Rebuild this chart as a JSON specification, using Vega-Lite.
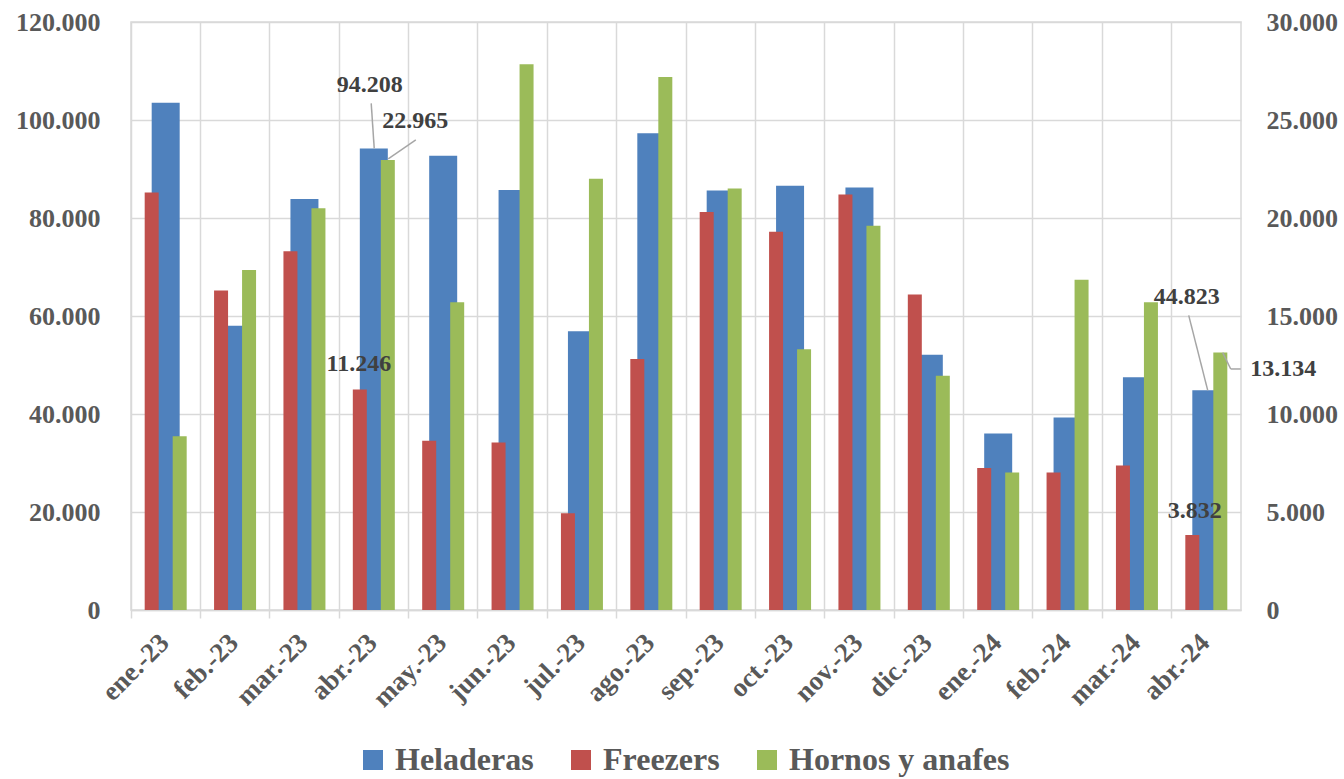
{
  "$schema": "https://vega.github.io/schema/vega-lite/v6.json",
  "width": 1110,
  "height": 588,
  "autosize": {"type": "none"},
  "padding": {"left": 131, "top": 22, "right": 103, "bottom": 169},
  "background": "white",
  "data": {
    "values": [
      {"mes": "ene.-23", "Heladeras": 103500, "Freezers": 21300, "Hornos": 8860},
      {"mes": "feb.-23", "Heladeras": 58000, "Freezers": 16300, "Hornos": 17350},
      {"mes": "mar.-23", "Heladeras": 83900, "Freezers": 18300, "Hornos": 20500},
      {"mes": "abr.-23", "Heladeras": 94208, "Freezers": 11246, "Hornos": 22965},
      {"mes": "may.-23", "Heladeras": 92700, "Freezers": 8640, "Hornos": 15700},
      {"mes": "jun.-23", "Heladeras": 85700, "Freezers": 8540, "Hornos": 27850},
      {"mes": "jul.-23", "Heladeras": 56900, "Freezers": 4930, "Hornos": 22000},
      {"mes": "ago.-23", "Heladeras": 97300, "Freezers": 12800, "Hornos": 27200},
      {"mes": "sep.-23", "Heladeras": 85600, "Freezers": 20300, "Hornos": 21500},
      {"mes": "oct.-23", "Heladeras": 86600, "Freezers": 19300, "Hornos": 13300},
      {"mes": "nov.-23", "Heladeras": 86200, "Freezers": 21200, "Hornos": 19600},
      {"mes": "dic.-23", "Heladeras": 52100, "Freezers": 16100, "Hornos": 11950},
      {"mes": "ene.-24", "Heladeras": 36000, "Freezers": 7250, "Hornos": 7020},
      {"mes": "feb.-24", "Heladeras": 39300, "Freezers": 7020, "Hornos": 16850},
      {"mes": "mar.-24", "Heladeras": 47500, "Freezers": 7370, "Hornos": 15700},
      {"mes": "abr.-24", "Heladeras": 44823, "Freezers": 3832, "Hornos": 13134}
    ]
  },
  "config": {
    "locale": {"number": {"decimal": ",", "thousands": ".", "grouping": [3], "currency": ["$", ""]}},
    "view": {"stroke": "#D9D9D9", "strokeWidth": 1.5},
    "font": "Liberation Serif",
    "axis": {
      "labelFont": "Liberation Serif",
      "labelFontWeight": "bold",
      "labelColor": "#595959",
      "labelFontSize": 26,
      "gridColor": "#D9D9D9",
      "gridWidth": 1.5,
      "domain": false,
      "ticks": false,
      "title": null
    }
  },
  "encoding": {
    "x": {
      "field": "mes",
      "type": "nominal",
      "sort": null,
      "scale": {
        "domain": ["ene.-23", "feb.-23", "mar.-23", "abr.-23", "may.-23", "jun.-23", "jul.-23", "ago.-23", "sep.-23", "oct.-23", "nov.-23", "dic.-23", "ene.-24", "feb.-24", "mar.-24", "abr.-24"],
        "paddingInner": 0,
        "paddingOuter": 0
      },
      "axis": {
        "title": null,
        "labelAngle": -45,
        "bandPosition": 0,
        "labelOffset": -10,
        "grid": true,
        "ticks": true,
        "tickSize": 8,
        "tickColor": "#D9D9D9",
        "tickWidth": 1.5,
        "domain": true,
        "domainColor": "#D9D9D9",
        "domainWidth": 1.5,
        "labelPadding": 11,
        "labelFontSize": 27
      }
    }
  },
  "layer": [
    {
      "mark": {"type": "bar", "width": 28},
      "encoding": {
        "y": {
          "field": "Heladeras",
          "type": "quantitative",
          "scale": {"domain": [0, 120000], "nice": false},
          "axis": {"orient": "left", "values": [0, 20000, 40000, 60000, 80000, 100000, 120000], "format": ",d", "grid": true, "labelPadding": 31}
        },
        "color": {
          "datum": "Heladeras",
          "type": "nominal",
          "scale": {"domain": ["Heladeras", "Freezers", "Hornos y anafes"], "range": ["#4F81BD", "#C0504D", "#9BBB59"]},
          "legend": {
            "title": null,
            "orient": "none",
            "legendX": 226,
            "legendY": 722,
            "direction": "horizontal",
            "symbolType": "square",
            "symbolSize": 400,
            "symbolStrokeWidth": 0,
            "labelFontSize": 32,
            "labelFont": "Liberation Serif",
            "labelFontWeight": "bold",
            "labelColor": "#595959",
            "columnPadding": 31,
            "labelOffset": 6,
            "labelLimit": 400
          }
        }
      }
    },
    {
      "mark": {"type": "bar", "width": 14, "xOffset": -14},
      "encoding": {
        "y": {
          "field": "Freezers",
          "type": "quantitative",
          "scale": {"domain": [0, 30000], "nice": false},
          "axis": {"orient": "right", "values": [0, 5000, 10000, 15000, 20000, 25000, 30000], "format": ",d", "grid": false, "labelPadding": 25}
        },
        "color": {"datum": "Freezers", "type": "nominal"}
      }
    },
    {
      "mark": {"type": "bar", "width": 14, "xOffset": 14},
      "encoding": {
        "y": {"field": "Hornos", "type": "quantitative", "scale": {"domain": [0, 30000], "nice": false}, "axis": null},
        "color": {"datum": "Hornos y anafes", "type": "nominal"}
      }
    },
    {
      "transform": [{"filter": "datum.mes === 'abr.-23'"}],
      "mark": {"type": "rule", "color": "#A6A6A6", "strokeWidth": 1.5, "xOffset": -2.6, "yOffset": -45, "x2Offset": 0.4, "y2Offset": 0},
      "encoding": {
        "x2": {"field": "mes"},
        "y": {"field": "Heladeras", "type": "quantitative", "scale": {"domain": [0, 120000], "nice": false}, "axis": null},
        "y2": {"field": "Heladeras"}
      }
    },
    {
      "transform": [{"filter": "datum.mes === 'abr.-23'"}],
      "mark": {"type": "rule", "color": "#A6A6A6", "strokeWidth": 1.5, "xOffset": 42, "yOffset": -20, "x2Offset": 14.4, "y2Offset": -1},
      "encoding": {
        "x2": {"field": "mes"},
        "y": {"field": "Hornos", "type": "quantitative", "scale": {"domain": [0, 30000], "nice": false}, "axis": null},
        "y2": {"field": "Hornos"}
      }
    },
    {
      "transform": [{"filter": "datum.mes === 'abr.-24'"}],
      "mark": {"type": "rule", "color": "#A6A6A6", "strokeWidth": 1.5, "xOffset": -17.6, "yOffset": -75, "x2Offset": 1.4, "y2Offset": 0},
      "encoding": {
        "x2": {"field": "mes"},
        "y": {"field": "Heladeras", "type": "quantitative", "scale": {"domain": [0, 120000], "nice": false}, "axis": null},
        "y2": {"field": "Heladeras"}
      }
    },
    {
      "transform": [{"filter": "datum.mes === 'abr.-24'"}],
      "mark": {"type": "rule", "color": "#A6A6A6", "strokeWidth": 1.5, "xOffset": 16.4, "yOffset": 0, "x2Offset": 24.4, "y2Offset": 16.4},
      "encoding": {
        "x2": {"field": "mes"},
        "y": {"field": "Hornos", "type": "quantitative", "scale": {"domain": [0, 30000], "nice": false}, "axis": null},
        "y2": {"field": "Hornos"}
      }
    },
    {
      "transform": [{"filter": "datum.mes === 'abr.-24'"}],
      "mark": {"type": "rule", "color": "#A6A6A6", "strokeWidth": 1.5, "xOffset": 24.4, "yOffset": 16.4, "x2Offset": 34.4, "y2Offset": 16.4},
      "encoding": {
        "x2": {"field": "mes"},
        "y": {"field": "Hornos", "type": "quantitative", "scale": {"domain": [0, 30000], "nice": false}, "axis": null},
        "y2": {"field": "Hornos"}
      }
    },
    {
      "transform": [{"filter": "datum.mes === 'abr.-23'"}],
      "mark": {"type": "text", "dx": -4, "dy": -63, "font": "Liberation Serif", "fontWeight": "bold", "fontSize": 24, "color": "#404040"},
      "encoding": {
        "y": {"field": "Heladeras", "type": "quantitative", "scale": {"domain": [0, 120000], "nice": false}, "axis": null},
        "text": {"field": "Heladeras", "type": "quantitative", "format": ",d"}
      }
    },
    {
      "transform": [{"filter": "datum.mes === 'abr.-23'"}],
      "mark": {"type": "text", "dx": 41.4, "dy": -39, "font": "Liberation Serif", "fontWeight": "bold", "fontSize": 24, "color": "#404040"},
      "encoding": {
        "y": {"field": "Hornos", "type": "quantitative", "scale": {"domain": [0, 30000], "nice": false}, "axis": null},
        "text": {"field": "Hornos", "type": "quantitative", "format": ",d"}
      }
    },
    {
      "transform": [{"filter": "datum.mes === 'abr.-23'"}],
      "mark": {"type": "text", "dx": -15, "dy": -26, "font": "Liberation Serif", "fontWeight": "bold", "fontSize": 24, "color": "#404040"},
      "encoding": {
        "y": {"field": "Freezers", "type": "quantitative", "scale": {"domain": [0, 30000], "nice": false}, "axis": null},
        "text": {"field": "Freezers", "type": "quantitative", "format": ",d"}
      }
    },
    {
      "transform": [{"filter": "datum.mes === 'abr.-24'"}],
      "mark": {"type": "text", "dx": -19.6, "dy": -93, "font": "Liberation Serif", "fontWeight": "bold", "fontSize": 24, "color": "#404040"},
      "encoding": {
        "y": {"field": "Heladeras", "type": "quantitative", "scale": {"domain": [0, 120000], "nice": false}, "axis": null},
        "text": {"field": "Heladeras", "type": "quantitative", "format": ",d"}
      }
    },
    {
      "transform": [{"filter": "datum.mes === 'abr.-24'"}],
      "mark": {"type": "text", "dx": 77, "dy": 16, "font": "Liberation Serif", "fontWeight": "bold", "fontSize": 24, "color": "#404040"},
      "encoding": {
        "y": {"field": "Hornos", "type": "quantitative", "scale": {"domain": [0, 30000], "nice": false}, "axis": null},
        "text": {"field": "Hornos", "type": "quantitative", "format": ",d"}
      }
    },
    {
      "transform": [{"filter": "datum.mes === 'abr.-24'"}],
      "mark": {"type": "text", "dx": -11.6, "dy": -24, "font": "Liberation Serif", "fontWeight": "bold", "fontSize": 24, "color": "#404040"},
      "encoding": {
        "y": {"field": "Freezers", "type": "quantitative", "scale": {"domain": [0, 30000], "nice": false}, "axis": null},
        "text": {"field": "Freezers", "type": "quantitative", "format": ",d"}
      }
    }
  ],
  "resolve": {"scale": {"y": "independent"}}
}
